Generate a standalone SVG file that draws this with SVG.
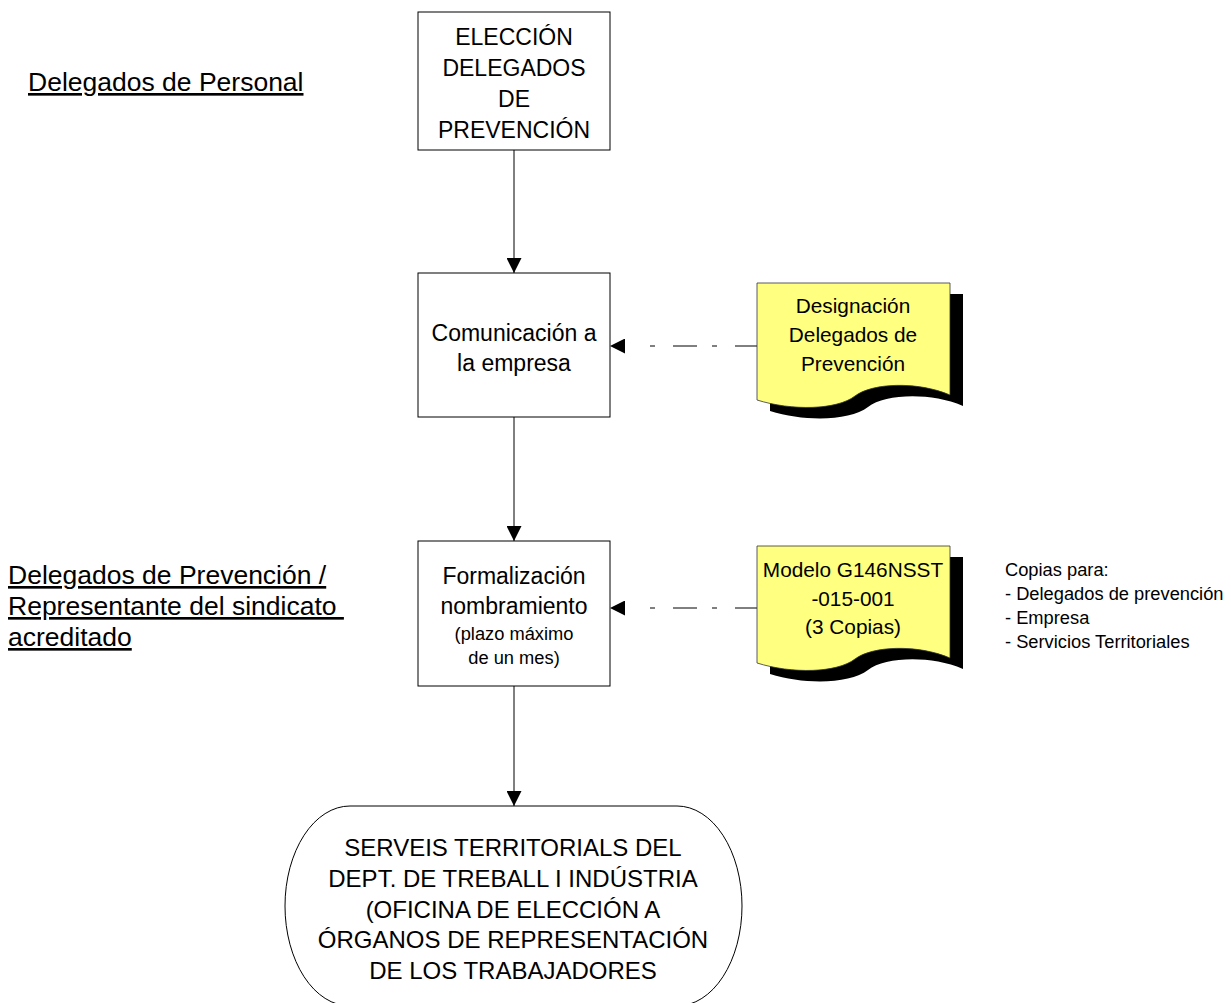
<svg xmlns="http://www.w3.org/2000/svg" width="1231" height="1003" viewBox="0 0 1231 1003">
<style>
text{font-family:"Liberation Sans",Arial,sans-serif;fill:#000}
.box{fill:#fff;stroke:#000;stroke-width:1}
.bt{font-size:23px;text-anchor:middle}
.st{font-size:18.3px;text-anchor:middle}
.dt{font-size:20.8px;text-anchor:middle}
.tt{font-size:24px;text-anchor:middle}
.lb{font-size:26.5px;text-decoration:underline}
.cp{font-size:18.3px}
.doc{fill:#FFFF80;stroke:#333;stroke-width:0.8}
.shadow{fill:#000}
.conn{stroke:#000;stroke-width:1;fill:none}
.dash{stroke-dasharray:22 18 5 15 24 18 5 40}
</style>
<defs>
<marker id="ah" viewBox="0 0 15 15" refX="15" refY="7.5" markerWidth="15" markerHeight="15" orient="auto" markerUnits="userSpaceOnUse"><path d="M0,0 L15,7.5 L0,15 Z" fill="#000"/></marker>
<path id="docshape" d="M0,0 H193 V112 C160,98 115,100 98,113 C80,127 35,128 0,117 Z"/>
</defs>

<g id="labels">
<text class="lb" x="28" y="91">Delegados de Personal</text>
<text class="lb" x="8" y="584">Delegados de Prevención /</text>
<text class="lb" x="8" y="615" xml:space="preserve">Representante del sindicato </text>
<text class="lb" x="8" y="646">acreditado</text>
</g>

<g id="connectors">
<line class="conn" x1="514" y1="150" x2="514" y2="273" marker-end="url(#ah)"/>
<line class="conn" x1="514" y1="417" x2="514" y2="541" marker-end="url(#ah)"/>
<line class="conn" x1="514" y1="686" x2="514" y2="806" marker-end="url(#ah)"/>
<line class="conn dash" x1="757" y1="346" x2="610" y2="346" marker-end="url(#ah)"/>
<line class="conn dash" x1="757" y1="608" x2="610" y2="608" marker-end="url(#ah)"/>
</g>

<g id="n-eleccion">
<rect class="box" x="418" y="12" width="192" height="138"/>
<text class="bt" x="514" y="45">ELECCIÓN</text>
<text class="bt" x="514" y="76">DELEGADOS</text>
<text class="bt" x="514" y="107">DE</text>
<text class="bt" x="514" y="138">PREVENCIÓN</text>
</g>

<g id="n-comunicacion">
<rect class="box" x="418" y="273" width="192" height="144"/>
<text class="bt" x="514" y="341">Comunicación a</text>
<text class="bt" x="514" y="371">la empresa</text>
</g>

<g id="n-formalizacion">
<rect class="box" x="418" y="541" width="192" height="145"/>
<text class="bt" x="514" y="584">Formalización</text>
<text class="bt" x="514" y="614">nombramiento</text>
<text class="st" x="514" y="640">(plazo máximo</text>
<text class="st" x="514" y="664">de un mes)</text>
</g>

<g id="n-serveis">
<path class="box" d="M350,806 H677 A65,100 0 0 1 677,1006 H350 A65,100 0 0 1 350,806 Z"/>
<text class="tt" x="513" y="856">SERVEIS TERRITORIALS DEL</text>
<text class="tt" x="513" y="887">DEPT. DE TREBALL I INDÚSTRIA</text>
<text class="tt" x="513" y="918">(OFICINA DE ELECCIÓN A</text>
<text class="tt" x="513" y="948">ÓRGANOS DE REPRESENTACIÓN</text>
<text class="tt" x="513" y="979">DE LOS TRABAJADORES</text>
</g>

<g id="n-designacion">
<use href="#docshape" class="shadow" transform="translate(770,294)"/>
<use href="#docshape" class="doc" transform="translate(757,283)"/>
<text class="dt" x="853" y="313">Designación</text>
<text class="dt" x="853" y="342">Delegados de</text>
<text class="dt" x="853" y="371">Prevención</text>
</g>

<g id="n-modelo">
<use href="#docshape" class="shadow" transform="translate(770,557)"/>
<use href="#docshape" class="doc" transform="translate(757,546)"/>
<text class="dt" x="853" y="577">Modelo G146NSST</text>
<text class="dt" x="853" y="606">-015-001</text>
<text class="dt" x="853" y="634">(3 Copias)</text>
</g>

<g id="n-copias">
<text class="cp" x="1005" y="576">Copias para:</text>
<text class="cp" x="1005" y="600">- Delegados de prevención</text>
<text class="cp" x="1005" y="624">- Empresa</text>
<text class="cp" x="1005" y="648">- Servicios Territoriales</text>
</g>
</svg>
